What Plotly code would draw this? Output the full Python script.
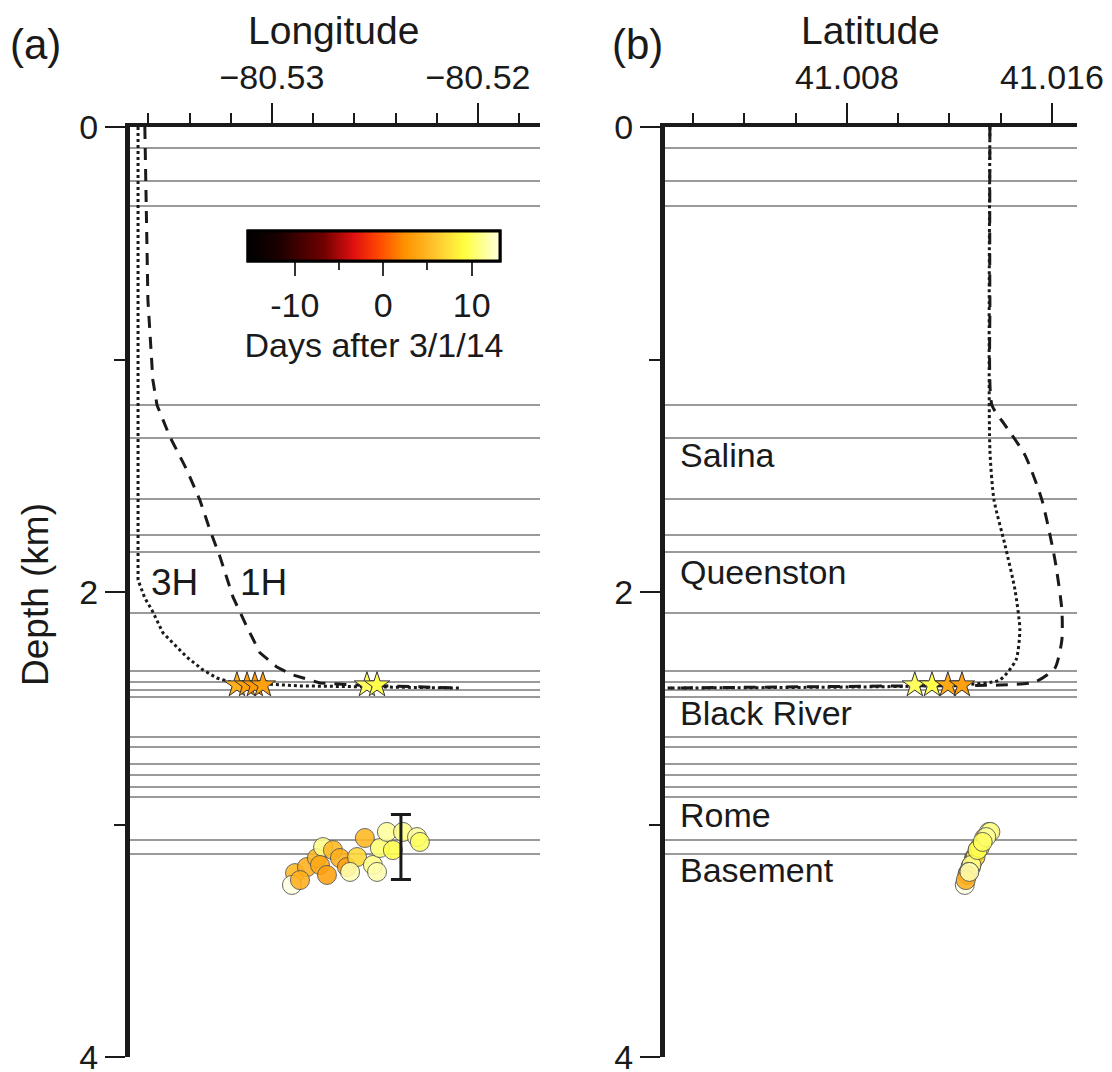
import plotly.graph_objects as go

W, H = 1112, 1072
FONT = "Liberation Sans, Arial, Helvetica, sans-serif"
INK = "#1a1a1a"

# ---------------- data ----------------
horizon_depths = [0.090, 0.232, 0.340, 1.196, 1.338, 1.600, 1.755, 1.828, 2.090,
                  2.340, 2.387, 2.422, 2.452, 2.624, 2.667, 2.740, 2.787, 2.839,
                  2.882, 3.067, 3.127]

formation_names = ["Salina", "Queenston", "Black River", "Rome", "Basement"]
formation_label_depths = [1.41, 1.915, 2.52, 2.96, 3.195]

# earthquakes (circles)
eq_lon = [-80.52888, -80.52903, -80.52830, -80.52782, -80.52752, -80.52767, -80.52704,
          -80.52670, -80.52636, -80.52587, -80.52549, -80.52510, -80.52476, -80.52442,
          -80.52413, -80.52364, -80.52296, -80.52282, -80.52621, -80.52733, -80.52864,
          -80.52490]
eq_lat = [41.01272, 41.01260, 41.01282, 41.01296, 41.01318, 41.01286, 41.01310,
          41.01298, 41.01284, 41.01302, 41.01336, 41.01286, 41.01318, 41.01354,
          41.01310, 41.01360, 41.01344, 41.01330, 41.01276, 41.01270, 41.01264,
          41.01278]
eq_depth = [3.209, 3.260, 3.183, 3.144, 3.097, 3.174, 3.110, 3.144, 3.183, 3.140,
            3.058, 3.174, 3.101, 3.032, 3.110, 3.032, 3.054, 3.075, 3.204, 3.217,
            3.239, 3.204]
eq_day = [5.0, 13.2, 4.5, 5.0, 11.0, 4.0, 5.0, 4.5, 3.5, 7.0, 5.0, 11.0, 10.5, 11.5,
          9.5, 11.0, 11.5, 10.0, 12.0, 3.5, 4.5, 12.0]

# stage locations (stars)
star_lon = [-80.53170, -80.53121, -80.53083, -80.53044, -80.52539, -80.52490]
star_lon_depth = [2.40, 2.40, 2.40, 2.40, 2.40, 2.40]
star_lon_day = [4.5, 3.5, 3.0, 3.5, 10.0, 9.5]
star_lat = [41.01065, 41.01132, 41.01194, 41.01249]
star_lat_depth = [2.40, 2.40, 2.40, 2.40]
star_lat_day = [10.0, 9.5, 4.0, 3.5]

# well trajectories
w1h_lon = [-80.53617, -80.53602, -80.53578, -80.53558, -80.53495, -80.53413, -80.53350,
           -80.53301, -80.53252, -80.53189, -80.53121, -80.53058, -80.52976, -80.52898,
           -80.52767, -80.52607, -80.52087]
w1h_lon_depth = [0.0, 0.744, 1.088, 1.196, 1.333, 1.475, 1.604, 1.733, 1.849, 2.022,
                 2.151, 2.262, 2.323, 2.357, 2.391, 2.400, 2.413]
w3h_lon = [-80.53650, -80.53650, -80.53650, -80.53617, -80.53583, -80.53529, -80.53480,
           -80.53413, -80.53335, -80.53267, -80.53204, -80.52864, -80.52087]
w3h_lon_depth = [0.0, 1.000, 1.948, 2.026, 2.077, 2.176, 2.219, 2.280, 2.335, 2.370,
                 2.387, 2.404, 2.413]

w1h_lat = [41.01358, 41.01358, 41.01366, 41.01417, 41.01495, 41.01561, 41.01612,
           41.01639, 41.01639, 41.01612, 41.01534, 41.01397, 41.01007, 41.00101]
w1h_lat_depth = [0.0, 0.744, 1.196, 1.282, 1.411, 1.604, 1.862, 2.077, 2.206, 2.327,
                 2.387, 2.400, 2.404, 2.413]
w3h_lat = [41.01358, 41.01358, 41.01374, 41.01417, 41.01456, 41.01475, 41.01460,
           41.01397, 41.01241, 41.00101]
w3h_lat_depth = [0.0, 1.389, 1.604, 1.798, 1.991, 2.163, 2.292, 2.378, 2.400, 2.413]

# depth uncertainty bar
err_lon = [-80.52374]
err_depth = [3.097]
err_size = [0.14]

day_min, day_max = -15.3, 13.2
cb_major_vals = [-10, 0, 10]
cb_major_text = ["-10", "0", "10"]
cb_minor_vals = [-5, 5]

colorscale = [
    [0.0, "#000000"], [0.12, "#1a0000"], [0.30, "#700000"], [0.42, "#e01010"],
    [0.52, "#ff4800"], [0.62, "#ff9000"], [0.75, "#ffc830"], [0.86, "#ffff40"],
    [1.0, "#ffffe0"],
]

# ---------------- layout geometry (pixels) ----------------
def px_x(p):
    return p / W

def px_y(p):
    return 1 - p / H

ax_top, ax_bot = 127, 1057
a_left, a_right = 130, 540
b_left, b_right = 665, 1077

cb_geom = dict(orientation="h", x=px_x(374), xanchor="center",
               y=px_y(231), yanchor="top",
               len=252, lenmode="pixels", thickness=30, thicknessmode="pixels",
               xpad=0, ypad=0, outlinewidth=3, outlinecolor="black",
               ticks="outside", tickwidth=2, tickcolor="#333")

fig = go.Figure()

# wells panel a
fig.add_trace(go.Scatter(x=w3h_lon, y=w3h_lon_depth, mode="lines", xaxis="x", yaxis="y",
                         line=dict(color=INK, width=3, dash="dot"),
                         showlegend=False, hoverinfo="skip"))
fig.add_trace(go.Scatter(x=w1h_lon, y=w1h_lon_depth, mode="lines", xaxis="x", yaxis="y",
                         line=dict(color=INK, width=3, dash="12px,9px"),
                         showlegend=False, hoverinfo="skip"))
# wells panel b
fig.add_trace(go.Scatter(x=w3h_lat, y=w3h_lat_depth, mode="lines", xaxis="x2", yaxis="y2",
                         line=dict(color=INK, width=3, dash="dot", shape="spline",
                                   smoothing=0.6),
                         showlegend=False, hoverinfo="skip"))
fig.add_trace(go.Scatter(x=w1h_lat, y=w1h_lat_depth, mode="lines", xaxis="x2", yaxis="y2",
                         line=dict(color=INK, width=3, dash="12px,9px", shape="spline",
                                   smoothing=0.6),
                         showlegend=False, hoverinfo="skip"))

marker_common = dict(colorscale=colorscale, cmin=day_min, cmax=day_max)

# stars
fig.add_trace(go.Scatter(x=star_lon, y=star_lon_depth, mode="markers", xaxis="x", yaxis="y",
                         marker=dict(symbol="star", size=19, color=star_lon_day,
                                     line=dict(color="#333", width=1), **marker_common),
                         showlegend=False))
fig.add_trace(go.Scatter(x=star_lat, y=star_lat_depth, mode="markers", xaxis="x2", yaxis="y2",
                         marker=dict(symbol="star", size=19, color=star_lat_day,
                                     line=dict(color="#333", width=1), **marker_common),
                         showlegend=False))

# earthquakes (panel a carries the main colour bar)
fig.add_trace(go.Scatter(
    x=eq_lon, y=eq_depth, mode="markers", xaxis="x", yaxis="y",
    marker=dict(size=19, color=eq_day, opacity=0.88,
                line=dict(color="#555", width=1),
                showscale=True,
                colorbar=dict(
                    **cb_geom,
                    tickvals=cb_major_vals, ticktext=cb_major_text, ticklen=14,
                    tickfont=dict(size=34, color=INK, family=FONT),
                    title=dict(text="Days after 3/1/14", side="bottom",
                               font=dict(size=34, color=INK, family=FONT)),
                ),
                **marker_common),
    showlegend=False))
# panel b earthquakes (carries the minor ticks of the same colour bar)
fig.add_trace(go.Scatter(
    x=eq_lat, y=eq_depth, mode="markers", xaxis="x2", yaxis="y2",
    marker=dict(size=19, color=eq_day, opacity=0.88,
                line=dict(color="#555", width=1),
                showscale=True,
                colorbar=dict(**cb_geom, tickvals=cb_minor_vals, ticktext=["", ""],
                              ticklen=8, tickfont=dict(size=10)),
                **marker_common),
    showlegend=False))

# error bar
fig.add_trace(go.Scatter(x=err_lon, y=err_depth, mode="markers", xaxis="x", yaxis="y",
                         marker=dict(size=1, color="rgba(0,0,0,0)"),
                         error_y=dict(type="data", array=err_size, visible=True,
                                      color=INK, thickness=3, width=10),
                         showlegend=False, hoverinfo="skip"))

# horizons
shapes = []
for d in horizon_depths:
    for xr, yr in (("x domain", "y"), ("x2 domain", "y2")):
        shapes.append(dict(type="line", xref=xr, yref=yr, x0=0, x1=1, y0=d, y1=d,
                           line=dict(color="#9a9a9a", width=2), layer="below"))

xcommon = dict(side="top", showline=True, linecolor=INK, linewidth=4, ticks="outside",
               ticklen=20, tickwidth=2, tickcolor=INK, showgrid=False, zeroline=False,
               automargin=False, ticklabeloverflow="allow",
               tickfont=dict(size=34, color=INK, family=FONT), ticklabelstandoff=0,
               minor=dict(ticks="outside", ticklen=10, tickwidth=2, tickcolor=INK,
                          showgrid=False))
ycommon = dict(range=[4, 0], showline=True, linecolor=INK, linewidth=5, ticks="outside",
               ticklen=20, tickwidth=2, tickcolor=INK, showgrid=False, zeroline=False,
               automargin=False, ticklabeloverflow="allow",
               tick0=0, dtick=2, tickfont=dict(size=34, color=INK, family=FONT),
               minor=dict(ticks="outside", ticklen=11, tickwidth=2, tickcolor=INK,
                          dtick=1, showgrid=False))

ydom = [px_y(ax_bot), px_y(ax_top)]

def ann(text, x, y, size, **kw):
    d = dict(text=text, x=px_x(x), y=px_y(y), xref="paper", yref="paper",
             xanchor="center", yanchor="middle", showarrow=False,
             font=dict(size=size, color=INK, family=FONT))
    d.update(kw)
    return d

annotations = [
    ann("Longitude", 333, 30, 39),
    ann("Latitude", 870, 30, 39),
    ann("(a)", 35, 45, 42),
    ann("(b)", 637, 45, 42),
    ann("Depth (km)", 35, 595, 37, textangle=-90),
    ann("3H", 174, 582, 37),
    ann("1H", 263, 582, 37),
]
for name, d in zip(formation_names, formation_label_depths):
    annotations.append(dict(text=name, x=px_x(678), y=d, xref="paper", yref="y2",
                            xanchor="left", yanchor="middle", showarrow=False,
                            font=dict(size=34, color=INK, family=FONT)))

fig.update_layout(
    width=W, height=H, margin=dict(l=0, r=0, t=0, b=0, autoexpand=False),
    paper_bgcolor="white", plot_bgcolor="rgba(0,0,0,0)",
    font=dict(family=FONT, color=INK),
    xaxis=dict(domain=[px_x(a_left), px_x(a_right)], anchor="y",
               range=[-80.53689, -80.51699], tick0=-80.53, dtick=0.01,
               **{**xcommon, "minor": {**xcommon["minor"], "dtick": 0.002}}),
    yaxis=dict(domain=ydom, anchor="x", **ycommon),
    xaxis2=dict(domain=[px_x(b_left), px_x(b_right)], anchor="y2",
                range=[41.0009, 41.01698], tick0=41.0, dtick=0.008,
                tickformat=".3f",
                **{**xcommon, "minor": {**xcommon["minor"], "dtick": 0.002}}),
    yaxis2=dict(domain=ydom, anchor="x2", **ycommon),
    shapes=shapes, annotations=annotations,
)

fig.write_html("out.html")
